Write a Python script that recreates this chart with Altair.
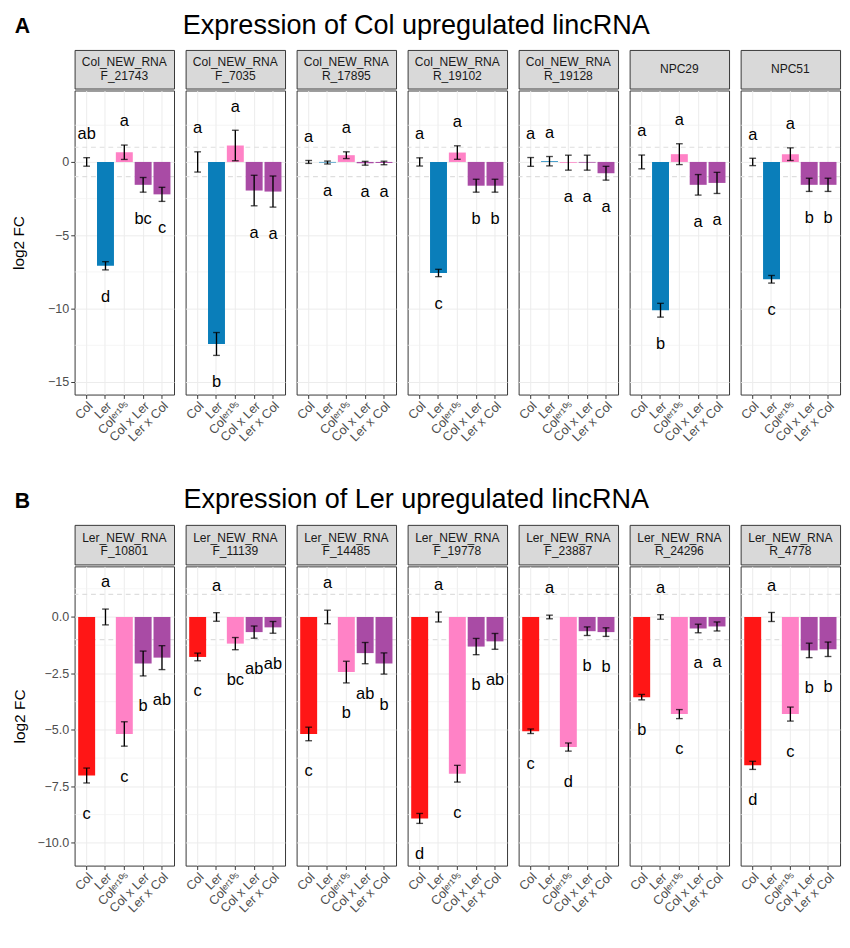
import altair as alt
import pandas as pd
import numpy as np

F = "Liberation Sans"

groups = ["Col", "Ler", "Colᵉʳ¹⁰⁵", "Col x Ler", "Ler x Col"]
colors = ["#FF1616", "#0A7EBA", "#FF82C6", "#A94BA5", "#A94BA5"]

# ---- Panel A: Col upregulated lincRNA ----
a_title = "Expression of Col upregulated lincRNA"
a_genes = ["Col_NEW_RNA_F_21743", "Col_NEW_RNA_F_7035", "Col_NEW_RNA_R_17895",
           "Col_NEW_RNA_R_19102", "Col_NEW_RNA_R_19128", "NPC29", "NPC51"]
a_means = [
    [0, -7.08, 0.66, -1.56, -2.21],
    [0, -12.41, 1.12, -1.95, -2.02],
    [0, -0.04, 0.46, -0.09, -0.07],
    [0, -7.57, 0.64, -1.62, -1.62],
    [0, 0.05, -0.05, -0.05, -0.77],
    [0, -10.11, 0.53, -1.56, -1.43],
    [0, -8.00, 0.53, -1.56, -1.56],
]
a_errs = [
    [0.29, 0.28, 0.49, 0.50, 0.48],
    [0.69, 0.78, 1.04, 1.04, 1.06],
    [0.10, 0.10, 0.23, 0.13, 0.12],
    [0.28, 0.25, 0.46, 0.44, 0.44],
    [0.30, 0.32, 0.51, 0.51, 0.47],
    [0.47, 0.47, 0.71, 0.70, 0.72],
    [0.25, 0.26, 0.43, 0.45, 0.45],
]
a_letters = [
    ["ab", "d", "a", "bc", "c"],
    ["a", "b", "a", "a", "a"],
    ["a", "a", "a", "a", "a"],
    ["a", "c", "a", "b", "b"],
    ["a", "a", "a", "a", "a"],
    ["a", "b", "a", "a", "a"],
    ["a", "c", "a", "b", "b"],
]
a_major = [0, -5, -10, -15]
a_minor = [2.5, -2.5, -7.5, -12.5]

# ---- Panel B: Ler upregulated lincRNA ----
b_title = "Expression of Ler upregulated lincRNA"
b_genes = ["Ler_NEW_RNA_F_10801", "Ler_NEW_RNA_F_11139", "Ler_NEW_RNA_F_14485",
           "Ler_NEW_RNA_F_19778", "Ler_NEW_RNA_F_23887", "Ler_NEW_RNA_R_24296",
           "Ler_NEW_RNA_R_4778"]
b_means = [
    [-7.02, 0, -5.18, -2.06, -1.80],
    [-1.77, 0, -1.18, -0.67, -0.46],
    [-5.18, 0, -2.44, -1.60, -2.06],
    [-8.92, 0, -6.94, -1.31, -1.08],
    [-5.06, 0, -5.76, -0.63, -0.67],
    [-3.55, 0, -4.30, -0.51, -0.42],
    [-6.57, 0, -4.30, -1.48, -1.43],
]
b_errs = [
    [0.33, 0.35, 0.54, 0.55, 0.53],
    [0.17, 0.19, 0.27, 0.27, 0.26],
    [0.30, 0.30, 0.48, 0.47, 0.47],
    [0.22, 0.22, 0.37, 0.36, 0.35],
    [0.10, 0.08, 0.18, 0.19, 0.19],
    [0.12, 0.10, 0.20, 0.19, 0.20],
    [0.18, 0.20, 0.31, 0.32, 0.32],
]
b_letters = [
    ["c", "a", "c", "b", "ab"],
    ["c", "a", "bc", "ab", "ab"],
    ["c", "a", "b", "ab", "b"],
    ["d", "a", "c", "b", "ab"],
    ["c", "a", "d", "b", "b"],
    ["b", "a", "c", "a", "a"],
    ["d", "a", "c", "b", "b"],
]
b_major = [0, -2.5, -5, -7.5, -10]
b_minor = [1.25, -1.25, -3.75, -6.25, -8.75]

ref_lines = [1, -1]


def build_df(genes, means, errs, letters, up, down):
    rows = []
    for g, m, e, l in zip(genes, means, errs, letters):
        for grp, mv, ev, lv in zip(groups, m, e, l):
            rows.append({"gene": g, "group": grp, "mean": mv, "err": ev, "letter": lv})
    df = pd.DataFrame(rows)
    df["hi"] = df["mean"] + df["err"]
    df["lo"] = df["mean"] - df["err"]
    df["ly"] = np.where(df["mean"] >= 0, df["hi"] + up, df["lo"] - down)
    return df


def make_panel(df, gene, first, ydom, major, minor, fmt, W, H, SH, tpad):
    d = df[df.gene == gene]
    label = gene.replace("RNA_", "RNA\n")
    nlines = label.count("\n") + 1
    ys = alt.Scale(domain=ydom, nice=False, zero=False)
    xaxis = alt.Axis(labelAngle=-45, title=None, domain=False, grid=True,
                     gridColor="#EBEBEB", ticks=True, tickSize=4, tickColor="#333333",
                     labelPadding=1, labelFontSize=13, labelColor="#4D4D4D", labelFont=F)
    x = alt.X("group:N", sort=groups, scale=alt.Scale(paddingInner=0.1, paddingOuter=0.19),
              axis=xaxis)
    yaxis = alt.Axis(values=major, format=fmt, title="log2 FC" if first else None,
                     labels=first, ticks=first, domain=False, grid=True,
                     gridColor="#EBEBEB", gridWidth=1, tickSize=4, tickColor="#333333",
                     labelPadding=2, titlePadding=tpad, labelFontSize=13,
                     labelColor="#4D4D4D", titleFontSize=16, titleFont=F, labelFont=F,
                     titleFontWeight="normal", titleColor="black")
    minor_rules = alt.Chart(pd.DataFrame({"m": minor})).mark_rule(
        color="#F0F0F0", strokeWidth=0.7
    ).encode(y=alt.Y("m:Q", scale=ys, axis=None))
    refs = alt.Chart(pd.DataFrame({"ref": ref_lines})).mark_rule(
        strokeDash=[5, 4], color="#DEDEDE", strokeWidth=1.2
    ).encode(y=alt.Y("ref:Q", scale=ys, axis=None))
    bars = alt.Chart(d).mark_bar().encode(
        x=x,
        y=alt.Y("mean:Q", scale=ys, axis=yaxis),
        y2=alt.datum(0),
        color=alt.Color("group:N", scale=alt.Scale(domain=groups, range=colors), legend=None),
    )
    err = alt.Chart(d).mark_rule(color="black", strokeWidth=1.4).encode(
        x=x, y=alt.Y("lo:Q", scale=ys, axis=None), y2="hi:Q")
    cap_lo = alt.Chart(d).mark_tick(color="black", thickness=1.4, size=7).encode(
        x=x, y=alt.Y("lo:Q", scale=ys, axis=None))
    cap_hi = alt.Chart(d).mark_tick(color="black", thickness=1.4, size=7).encode(
        x=x, y=alt.Y("hi:Q", scale=ys, axis=None))
    letters = alt.Chart(d).mark_text(fontSize=17, font=F, color="black", baseline="middle").encode(
        x=x, y=alt.Y("ly:Q", scale=ys, axis=None), text="letter:N")
    plot = alt.layer(minor_rules, refs, bars, err, cap_lo, cap_hi, letters).resolve_axis(
        y="independent").properties(width=W, height=H)
    strip = alt.Chart(pd.DataFrame({"label": [label]})).mark_text(
        fontSize=12.5, font=F, color="#1A1A1A", lineBreak="\n", lineHeight=14, baseline="middle"
    ).encode(text="label:N", x=alt.value(W / 2),
             y=alt.value(SH / 2 - 7 * (nlines - 1))).properties(
        width=W, height=SH,
        view=alt.ViewBackground(fill="#D9D9D9", stroke="#333333", strokeWidth=1))
    return alt.vconcat(strip, plot, spacing=0)


def header(letter, title, H, base):
    a = alt.Chart(pd.DataFrame({"t": [letter]})).mark_text(
        align="left", baseline="alphabetic", fontSize=22, fontWeight="bold", font=F, color="black"
    ).encode(text="t:N", x=alt.value(-62), y=alt.value(base - 1))
    t = alt.Chart(pd.DataFrame({"t": [title]})).mark_text(
        align="center", baseline="alphabetic", fontSize=28, font=F, color="black"
    ).encode(text="t:N", x=alt.value(354), y=alt.value(base))
    return alt.layer(a, t).properties(
        width=700, height=H, view=alt.ViewBackground(stroke="transparent", fill="transparent"))


df_a = build_df(a_genes, a_means, a_errs, a_letters, 1.6, 1.85)
df_b = build_df(b_genes, b_means, b_errs, b_letters, 1.18, 1.36)

panels_a = [make_panel(df_a, g, i == 0, [-15.86, 4.87], a_major, a_minor, "d",
                       103, 315, 40, 22)
            for i, g in enumerate(a_genes)]
panels_b = [make_panel(df_b, g, i == 0, [-11.01, 2.24], b_major, b_minor, ".1f",
                       103, 310, 41, 10)
            for i, g in enumerate(b_genes)]

row_a = alt.hconcat(*panels_a, spacing=7)
row_b = alt.hconcat(*panels_b, spacing=7)

chart = alt.ConcatChart(
    concat=[header("A", a_title, 30, 22), row_a, header("B", b_title, 66, 58), row_b],
    columns=1, spacing=7,
).properties(
    padding={"left": 2, "top": -13, "right": 0, "bottom": -8}
).configure_view(stroke="#333333", strokeWidth=1).configure_axis(
    labelFont=F, titleFont=F
)

chart.save("out.html", embed_options={"renderer": "svg", "actions": False})
